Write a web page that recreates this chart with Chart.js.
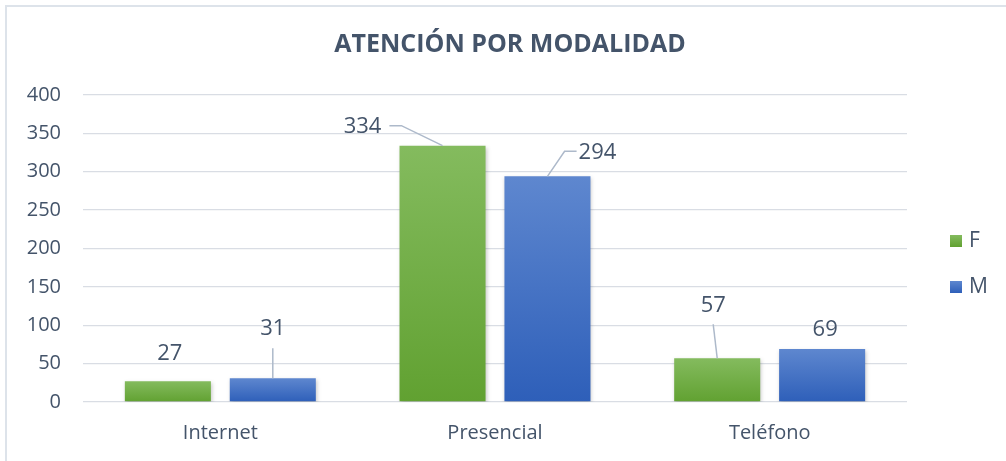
<!DOCTYPE html>
<html>
<head>
<meta charset="utf-8">
<script src="https://cdn.jsdelivr.net/npm/chart.js@4"></script>
<style>
html,body{margin:0;padding:0;background:#ffffff;}
#wrap{width:1006px;height:461px;position:relative;}
</style>
</head>
<body>
<div id="wrap"><canvas id="c" width="1006" height="461"></canvas></div>
<script>
// ---- data ----
const titleText = 'ATENCIÓN POR MODALIDAD';
const categories = ['Internet', 'Presencial', 'Teléfono'];
const seriesNames = ['F', 'M'];
const valuesF = [27, 334, 57];
const valuesM = [31, 294, 69];
const yMin = 0;
const yMax = 400;
const yStep = 50;

// ---- styles ----
const TEXT = '#44546a';
const GRID = '#d9dde4';
const LEADER = '#adb9ca';
const FONT = "'Open Sans', 'Liberation Sans', sans-serif";
const greenTop = '#84bb5e', greenBottom = '#61a131';
const blueTop = '#5e87cf', blueBottom = '#2e5fb9';

function barGradient(top, bottom) {
  return function (ctx) {
    const chart = ctx.chart;
    const ys = chart.scales && chart.scales.y;
    if (!chart.chartArea || !ys || ctx.parsed === undefined) return bottom;
    const y0 = ys.getPixelForValue(ctx.parsed.y);
    const y1 = ys.getPixelForValue(0);
    if (!isFinite(y0) || !isFinite(y1) || y0 === y1) return bottom;
    const g = chart.ctx.createLinearGradient(0, y0, 0, y1);
    g.addColorStop(0, top);
    g.addColorStop(1, bottom);
    return g;
  };
}

// label placement relative to the top-centre of each bar (style options)
const labelPlacement = [
  [ {dx: 2, dy: -28, line: null},
    {dx: -80, dy: -19, line: 'elbowRight'},
    {dx: -4, dy: -53, line: 'drop'} ],
  [ {dx: 0, dy: -49, line: 'drop'},
    {dx: 50, dy: -24, line: 'elbowLeft'},
    {dx: 3, dy: -19, line: null} ]
];

const barShadow = {
  id: 'barShadow',
  beforeDatasetsDraw(chart) {
    const c = chart.ctx;
    c.save();
    c.shadowColor = 'rgba(0,0,0,0.22)';
    c.shadowBlur = 4;
    c.shadowOffsetX = 1;
    c.shadowOffsetY = 2;
  },
  afterDatasetsDraw(chart) {
    chart.ctx.restore();
  }
};

const dataLabels = {
  id: 'dataLabels',
  afterDatasetsDraw(chart) {
    const c = chart.ctx;
    c.save();
    c.font = '22px ' + FONT;
    c.fillStyle = TEXT;
    c.textAlign = 'center';
    c.textBaseline = 'middle';
    c.strokeStyle = LEADER;
    c.lineWidth = 1.5;
    chart.data.datasets.forEach((ds, di) => {
      const meta = chart.getDatasetMeta(di);
      meta.data.forEach((bar, i) => {
        const p = labelPlacement[di][i];
        const text = String(ds.data[i]);
        const tx = bar.x + p.dx, ty = bar.y + p.dy;
        const w = c.measureText(text).width;
        if (p.line === 'drop') {
          c.beginPath();
          c.moveTo(tx, ty + 19);
          c.lineTo(bar.x, bar.y);
          c.stroke();
        } else if (p.line === 'elbowRight') {
          const sx = tx + w / 2 + 8, sy = ty - 1;
          c.beginPath();
          c.moveTo(sx, sy);
          c.lineTo(sx + 12, sy);
          c.lineTo(bar.x, bar.y);
          c.stroke();
        } else if (p.line === 'elbowLeft') {
          const sx = tx - w / 2 - 2, sy = ty - 1;
          c.beginPath();
          c.moveTo(sx, sy);
          c.lineTo(sx - 12, sy);
          c.lineTo(bar.x, bar.y);
          c.stroke();
        }
        c.fillText(text, tx, ty);
      });
    });
    c.restore();
  }
};

const decorations = {
  id: 'decorations',
  afterDraw(chart) {
    const c = chart.ctx;
    c.save();
    // title
    c.fillStyle = TEXT;
    c.font = 'bold 25px ' + FONT;
    c.textAlign = 'center';
    c.textBaseline = 'middle';
    c.fillText(titleText, 510, 45);
    // legend
    const colors = [[greenTop, greenBottom], [blueTop, blueBottom]];
    const ys = [241, 287];
    seriesNames.forEach((name, i) => {
      const y = ys[i];
      const g = c.createLinearGradient(0, y - 6, 0, y + 6);
      g.addColorStop(0, colors[i][0]);
      g.addColorStop(1, colors[i][1]);
      c.fillStyle = g;
      c.fillRect(950, y - 6, 12, 12);
      c.fillStyle = TEXT;
      c.font = '21px ' + FONT;
      c.textAlign = 'left';
      c.textBaseline = 'middle';
      c.fillText(name, 969, y);
    });
    // chart frame
    c.strokeStyle = '#dde3ea';
    c.lineWidth = 2;
    c.beginPath();
    c.moveTo(6, 470);
    c.lineTo(6, 6);
    c.lineTo(1010, 6);
    c.stroke();
    c.restore();
  }
};

new Chart(document.getElementById('c'), {
  type: 'bar',
  data: {
    labels: categories,
    datasets: [
      { label: seriesNames[0], data: valuesF, backgroundColor: barGradient(greenTop, greenBottom),
        categoryPercentage: 0.764, barPercentage: 0.82 },
      { label: seriesNames[1], data: valuesM, backgroundColor: barGradient(blueTop, blueBottom),
        categoryPercentage: 0.764, barPercentage: 0.82 }
    ]
  },
  options: {
    responsive: false,
    devicePixelRatio: 1,
    animation: false,
    layout: { padding: { left: 8, right: 99, top: 95, bottom: 9 } },
    plugins: {
      legend: { display: false },
      tooltip: { enabled: false },
      title: { display: false }
    },
    scales: {
      x: {
        grid: { display: false, drawTicks: false },
        border: { display: false },
        ticks: { color: TEXT, font: { family: FONT, size: 20 }, padding: 19 },
        afterFit(s) { s.height = 50; }
      },
      y: {
        min: yMin, max: yMax,
        grid: { color: GRID, lineWidth: 1.3, drawTicks: false },
        border: { display: false },
        ticks: { stepSize: yStep, color: TEXT, font: { family: FONT, size: 20 }, padding: 22 },
        afterFit(s) { s.width = 75; }
      }
    }
  },
  plugins: [barShadow, dataLabels, decorations]
});
</script>
</body>
</html>
